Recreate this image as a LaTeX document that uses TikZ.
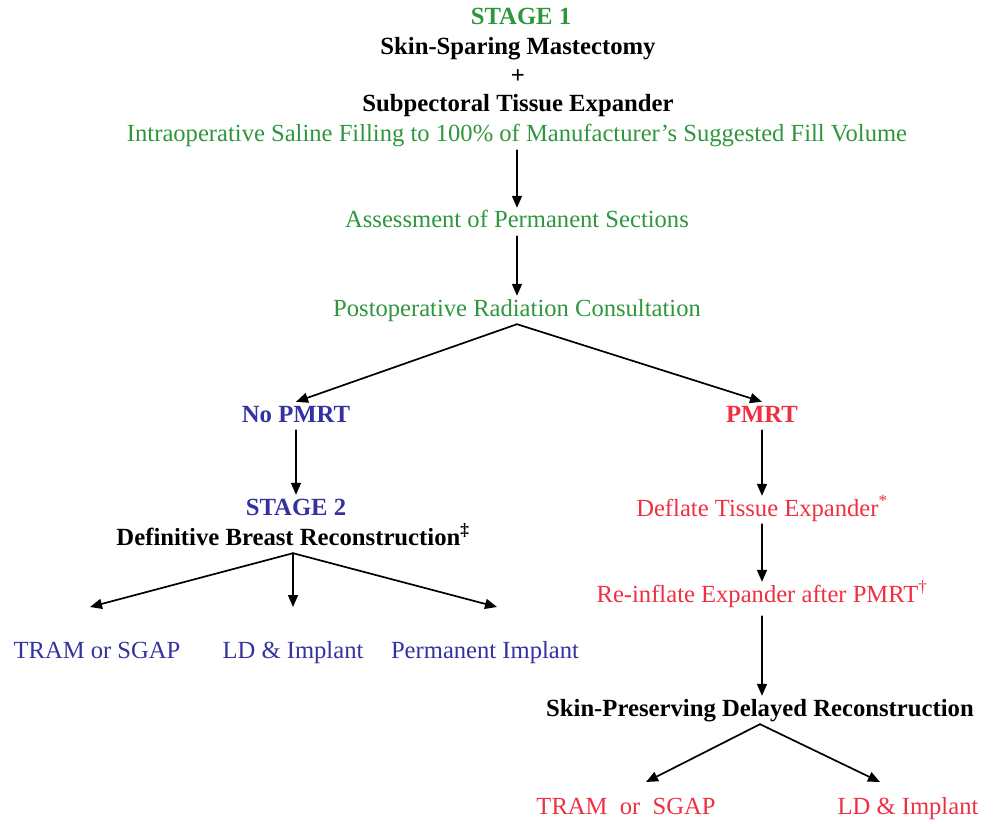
\documentclass[tikz,border=0pt]{standalone}
\usepackage{fontspec}
\setmainfont{Liberation Serif}
\usetikzlibrary{arrows.meta}
\definecolor{stgreen}{RGB}{46,150,60}
\definecolor{stblue}{RGB}{52,50,160}
\definecolor{stred}{RGB}{238,48,66}

\begin{document}
\begin{tikzpicture}[x=1pt,y=-1pt,line cap=round,line join=round,
  every node/.style={inner sep=3pt,text height=17pt,text depth=5pt,
    font=\fontsize{24.6}{28}\selectfont},
  grn/.style={text=stgreen},
  blu/.style={text=stblue},
  rd/.style={text=stred},
  hd/.style={font=\fontsize{24.7}{28}\selectfont\bfseries},
  arr/.style={line width=1.7pt,-{Triangle[length=12pt,width=10pt]}}]
  \useasboundingbox (0,0) rectangle (994,824);
  \node[grn,hd] (s1) at (521,19) {STAGE 1};
  \node[hd] (ssm) at (518,49) {Skin-Sparing Mastectomy};
  \node[hd] (plus) at (518,78) {+};
  \node[hd] (ste) at (518,106) {Subpectoral Tissue Expander};
  \node[grn] (intra) at (517,136) {Intraoperative Saline Filling to 100\% of Manufacturer's Suggested Fill Volume};
  \node[grn] (assess) at (517,222) {Assessment of Permanent Sections};
  \node[grn] (consult) at (517,310) {Postoperative Radiation Consultation};
  \node[blu,hd] (nopmrt) at (296,416) {No PMRT};
  \node[rd,hd] (pmrt) at (762,416) {PMRT};
  \node[blu,hd] (s2) at (296,509) {STAGE 2};
  \node[hd] (defin) at (293,539) {Definitive Breast Reconstruction\textsuperscript{‡}};
  \node[blu] (tramL) at (97,652) {TRAM or SGAP};
  \node[blu] (ldL) at (293,652) {LD \& Implant};
  \node[blu] (permL) at (485,652) {Permanent Implant};
  \node[rd] (deflate) at (762,510) {Deflate Tissue Expander\textsuperscript{*}};
  \node[rd] (reinf) at (762,596) {Re-inflate Expander after PMRT\textsuperscript{†}};
  \node[hd] (spdr) at (760,710) {Skin-Preserving Delayed Reconstruction};
  \node[rd] (tramR) at (626,808) {TRAM\ \ or\ \ SGAP};
  \node[rd] (ldR) at (908,808) {LD \& Implant};
  \coordinate (eL1) at (90,607);
  \coordinate (eL2) at (293,607);
  \coordinate (eL3) at (497,607);
  \coordinate (eR1) at (646,782);
  \coordinate (eR2) at (880,782);
  \draw[arr] (intra.south) -- (assess.north);
  \draw[arr] (assess.south) -- (consult.north);
  \draw[arr] (consult.south) -- (nopmrt.north);
  \draw[arr] (consult.south) -- (pmrt.north);
  \draw[arr] (nopmrt.south) -- (s2.north);
  \draw[arr] (pmrt.south) -- (deflate.north -| pmrt.south);
  \draw[arr] (defin.south) -- (eL1);
  \draw[arr] (defin.south) -- (eL2);
  \draw[arr] (defin.south) -- (eL3);
  \draw[arr] (deflate.south -| pmrt.south) -- (reinf.north -| pmrt.south);
  \draw[arr] ([yshift=-6pt]reinf.south -| pmrt.south) -- (spdr.north -| pmrt.south);
  \draw[arr] (spdr.south) -- (eR1);
  \draw[arr] (spdr.south) -- (eR2);
\end{tikzpicture}
\end{document}
